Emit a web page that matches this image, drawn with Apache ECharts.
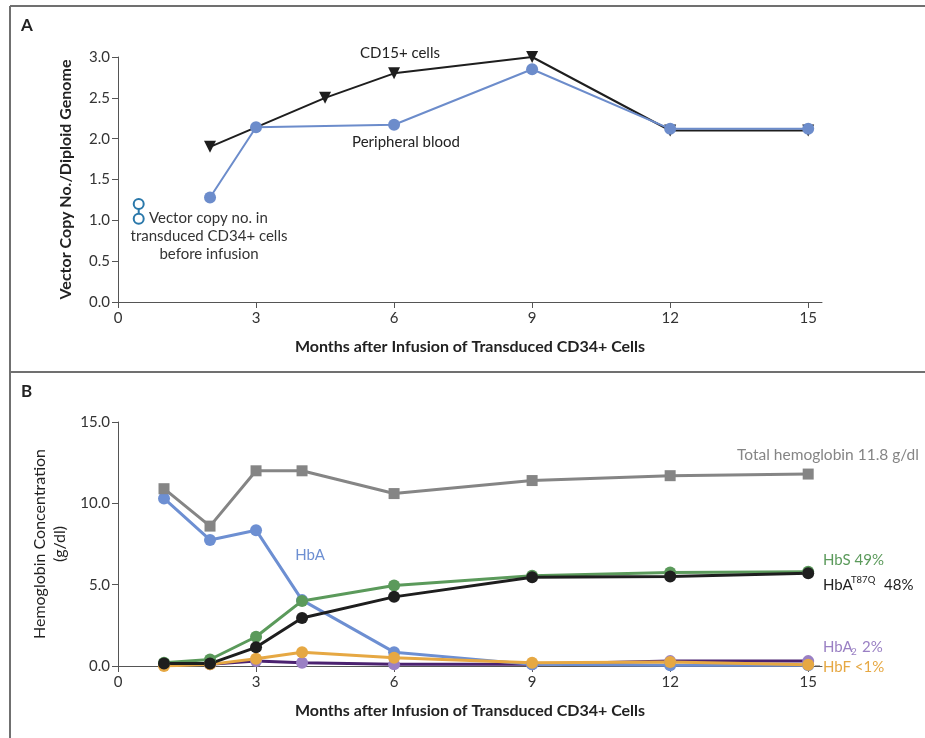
<!DOCTYPE html>
<html>
<head>
<meta charset="utf-8">
<script src="https://cdn.jsdelivr.net/npm/echarts@6/dist/echarts.min.js"></script>
<style>
  html, body { margin: 0; padding: 0; background: #fff; }
  #chart { width: 925px; height: 738px; }
</style>
</head>
<body>
<div id="chart"></div>
<script>
// Panel A: vector copy number
const cd15Months = [2, 4.5, 6, 9, 12, 15];
const cd15Copies = [1.9, 2.5, 2.8, 3.0, 2.1, 2.1];
const bloodMonths = [2, 3, 6, 9, 12, 15];
const bloodCopies = [1.28, 2.14, 2.17, 2.85, 2.12, 2.12];
const preInfusionMonths = [0.45, 0.45];
const preInfusionCopies = [1.2, 1.02];

// Panel B: hemoglobin fractions (g/dl)
const hbMonths = [1, 2, 3, 4, 6, 9, 12, 15];
const totalHb = [10.9, 8.6, 12.0, 12.0, 10.6, 11.4, 11.7, 11.8];
const hbA = [10.3, 7.75, 8.35, 4.05, 0.85, 0.1, 0.05, 0.05];
const hbS = [0.2, 0.4, 1.8, 4.0, 4.95, 5.55, 5.75, 5.8];
const hbAT87Q = [0.15, 0.15, 1.15, 2.95, 4.25, 5.45, 5.5, 5.7];
const hbF = [0.0, 0.1, 0.45, 0.85, 0.5, 0.2, 0.25, 0.07];
const hbA2 = [0.1, 0.1, 0.3, 0.2, 0.1, 0.1, 0.3, 0.3];

const monthTicks = [0, 3, 6, 9, 12, 15];

const FONT = 'Lato';
const pairs = (xs, ys) => xs.map((x, i) => [x, ys[i]]);

function xAxisFor(gridIndex) {
    return {
        type: 'value', gridIndex: gridIndex, min: 0, max: 15.3,
        name: 'Months after Infusion of Transduced CD34+ Cells',
        nameLocation: 'middle', nameGap: 37,
        nameTextStyle: { fontFamily: FONT, fontWeight: 'bold', fontSize: 16, color: '#222' },
        axisLine: { lineStyle: { color: '#555', width: 1 } },
        axisTick: { length: 6, lineStyle: { color: '#555' }, customValues: monthTicks },
        axisLabel: { margin: 9, fontFamily: FONT, fontSize: 15, color: '#333', customValues: monthTicks },
        splitLine: { show: false }
    };
}

function lineSeries(name, data, color, opts) {
    return Object.assign({
        name: name, type: 'line', data: data,
        symbol: 'circle', symbolSize: 12,
        lineStyle: { color: color, width: 3 },
        itemStyle: { color: color },
        emphasis: { disabled: true }
    }, opts || {});
}

const chart = echarts.init(document.getElementById('chart'));

const option = {
    animation: false,
    backgroundColor: '#fff',
    grid: [
        { left: 118, top: 57, width: 704, height: 245 },
        { left: 118, top: 422, width: 704, height: 244 }
    ],
    xAxis: [xAxisFor(0), xAxisFor(1)],
    yAxis: [
        {
            type: 'value', gridIndex: 0, min: 0, max: 3, interval: 0.5,
            name: 'Vector Copy No./Diploid Genome',
            nameLocation: 'middle', nameGap: 44,
            nameTextStyle: { fontFamily: FONT, fontWeight: 'bold', fontSize: 16, color: '#222' },
            axisLine: { show: true, lineStyle: { color: '#555', width: 1 } },
            axisTick: { show: true, length: 6, lineStyle: { color: '#555' } },
            axisLabel: { margin: 8, fontFamily: FONT, fontSize: 15, color: '#333', formatter: v => v.toFixed(1) },
            splitLine: { show: false }
        },
        {
            type: 'value', gridIndex: 1, min: 0, max: 15, interval: 5,
            name: 'Hemoglobin Concentration\n(g/dl)',
            nameLocation: 'middle', nameGap: 48,
            nameTextStyle: { fontFamily: FONT, fontSize: 16, color: '#222', lineHeight: 20, align: 'center' },
            axisLine: { show: true, lineStyle: { color: '#555', width: 1 } },
            axisTick: { show: true, length: 6, lineStyle: { color: '#555' } },
            axisLabel: { margin: 8, fontFamily: FONT, fontSize: 15, color: '#333', formatter: v => v.toFixed(1) },
            splitLine: { show: false }
        }
    ],
    series: [
        lineSeries('Peripheral blood', pairs(bloodMonths, bloodCopies), '#6c8ccb',
            { xAxisIndex: 0, yAxisIndex: 0, symbolSize: 12, lineStyle: { color: '#6c8ccb', width: 2 } }),
        lineSeries('CD15+ cells', pairs(cd15Months, cd15Copies), '#1e1e1e',
            { xAxisIndex: 0, yAxisIndex: 0, symbol: 'triangle', symbolRotate: 180, symbolSize: 12,
              lineStyle: { color: '#1e1e1e', width: 2 }, z: 1 }),
        lineSeries('Before infusion', pairs(preInfusionMonths, preInfusionCopies), '#2a78aa',
            { xAxisIndex: 0, yAxisIndex: 0, symbol: 'emptyCircle', symbolSize: 10,
              lineStyle: { color: '#2a78aa', width: 2 }, itemStyle: { color: '#2a78aa', borderWidth: 2.5 } }),

        lineSeries('HbA2', pairs(hbMonths, hbA2), '#4b2270',
            { xAxisIndex: 1, yAxisIndex: 1, itemStyle: { color: '#9a80c4' } }),
        lineSeries('HbA', pairs(hbMonths, hbA), '#6d8fd2', { xAxisIndex: 1, yAxisIndex: 1 }),
        lineSeries('HbF', pairs(hbMonths, hbF), '#e6a843', { xAxisIndex: 1, yAxisIndex: 1 }),
        lineSeries('HbS', pairs(hbMonths, hbS), '#5b9a5b', { xAxisIndex: 1, yAxisIndex: 1 }),
        lineSeries('HbA T87Q', pairs(hbMonths, hbAT87Q), '#1e1e1e', { xAxisIndex: 1, yAxisIndex: 1 }),
        lineSeries('Total hemoglobin', pairs(hbMonths, totalHb), '#858585',
            { xAxisIndex: 1, yAxisIndex: 1, symbol: 'rect', symbolSize: 11 })
    ],
    graphic: [
        // panel frame
        { type: 'line', shape: { x1: 10, y1: 6, x2: 925, y2: 6 }, style: { stroke: '#707070', lineWidth: 2 } },
        { type: 'line', shape: { x1: 10, y1: 6, x2: 10, y2: 738 }, style: { stroke: '#707070', lineWidth: 2 } },
        { type: 'line', shape: { x1: 10, y1: 372, x2: 925, y2: 372 }, style: { stroke: '#707070', lineWidth: 2 } },
        { type: 'text', left: 21, top: 17, style: { text: 'A', font: 'bold 17px ' + FONT, fill: '#222' } },
        { type: 'text', left: 21, top: 383, style: { text: 'B', font: 'bold 17px ' + FONT, fill: '#222' } },

        // panel A annotations
        { type: 'text', x: 400, y: 53, style: { text: 'CD15+ cells', font: '15px ' + FONT, fill: '#222', align: 'center', verticalAlign: 'middle' } },
        { type: 'text', x: 406, y: 142, style: { text: 'Peripheral blood', font: '15px ' + FONT, fill: '#222', align: 'center', verticalAlign: 'middle' } },
        { type: 'text', x: 149, y: 218, style: { text: 'Vector copy no. in', font: '15px ' + FONT, fill: '#333', verticalAlign: 'middle' } },
        { type: 'text', x: 209, y: 245, style: { text: 'transduced CD34+ cells\nbefore infusion', font: '15px ' + FONT, fill: '#333', align: 'center', verticalAlign: 'middle', lineHeight: 18 } },

        // panel B annotations
        { type: 'text', x: 310, y: 555, style: { text: 'HbA', font: '15px ' + FONT, fill: '#6d8fd2', align: 'center', verticalAlign: 'middle' } },
        { type: 'text', x: 737, y: 455, style: { text: 'Total hemoglobin 11.8 g/dl', font: '15.5px ' + FONT, fill: '#858585', verticalAlign: 'middle' } },
        { type: 'text', x: 823, y: 560, style: { text: 'HbS 49%', font: '15px ' + FONT, fill: '#5b9a5b', verticalAlign: 'middle' } },
        { type: 'text', x: 823, y: 585, style: { text: 'HbA', font: '15px ' + FONT, fill: '#222', verticalAlign: 'middle' } },
        { type: 'text', x: 851, y: 580, style: { text: 'T87Q', font: '9.5px ' + FONT, fill: '#222', verticalAlign: 'middle' } },
        { type: 'text', x: 884, y: 585, style: { text: '48%', font: '15px ' + FONT, fill: '#222', verticalAlign: 'middle' } },
        { type: 'text', x: 823, y: 647, style: { text: 'HbA', font: '15px ' + FONT, fill: '#9a80c4', verticalAlign: 'middle' } },
        { type: 'text', x: 851, y: 652, style: { text: '2', font: '10px ' + FONT, fill: '#9a80c4', verticalAlign: 'middle' } },
        { type: 'text', x: 862, y: 647, style: { text: '2%', font: '15px ' + FONT, fill: '#9a80c4', verticalAlign: 'middle' } },
        { type: 'line', shape: { x1: 815, y1: 666, x2: 820, y2: 666 }, style: { stroke: '#555', lineWidth: 1 } },
        { type: 'text', x: 823, y: 667, style: { text: 'HbF <1%', font: '15px ' + FONT, fill: '#e6a843', verticalAlign: 'middle' } }
    ]
};

chart.setOption(option);
</script>
</body>
</html>
